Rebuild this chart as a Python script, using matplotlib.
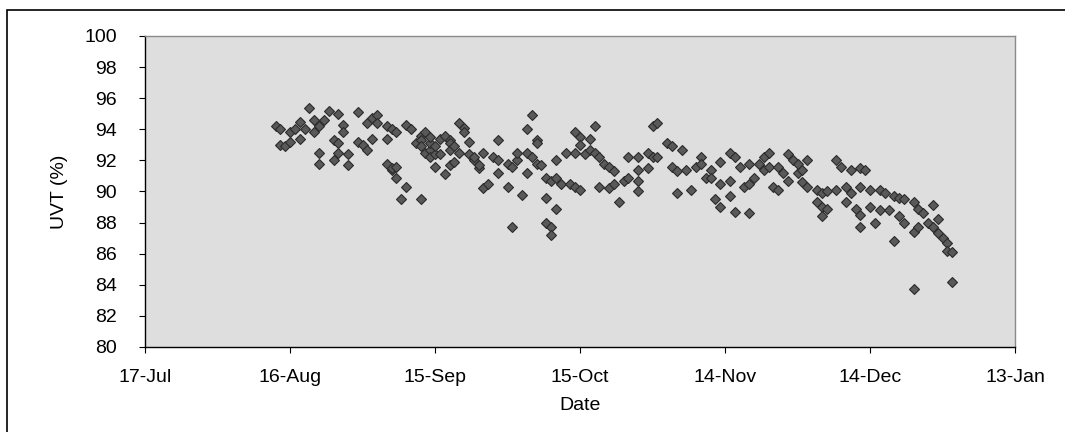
import datetime as dt

import matplotlib
matplotlib.use("Agg")
import matplotlib.pyplot as plt
import matplotlib.dates as mdates
from matplotlib.patches import Rectangle

# UVT readings, day of month per month (Aug 2006 - Dec 2006)
aug_day = [13, 14, 14, 15, 16, 16, 17, 18, 18, 19, 20, 21, 21, 22, 22,
           22, 23, 24, 25, 25, 26, 26, 26, 27, 27, 28, 28, 30, 30, 31]
aug_uvt = [94.2, 94.0, 93.0, 92.9, 93.8, 93.2, 94.0, 93.4, 94.5, 94.0,
           95.4, 93.8, 94.6, 92.5, 94.2, 91.8, 94.6, 95.2, 93.3, 92.0,
           95.0, 93.1, 92.5, 94.3, 93.8, 91.7, 92.4, 93.2, 95.1, 93.0]

sep_day = [1, 1, 2, 2, 3, 3, 5, 5, 5, 6, 6, 6, 7, 7, 7, 8, 9, 9, 10, 11,
           12, 12, 12, 12, 13, 13, 14, 14, 14, 14, 15, 15, 15, 16, 16, 17,
           17, 18, 18, 18, 18, 19, 19, 20, 20, 21, 21, 22, 22, 23, 23, 24,
           24, 25, 25, 26, 27, 28, 28, 28, 30, 30]
sep_uvt = [94.4, 92.7, 93.4, 94.7, 94.9, 94.4, 94.2, 93.4, 91.8, 91.4,
           94.0, 91.5, 93.8, 91.6, 90.9, 89.5, 90.3, 94.3, 94.0, 93.1,
           89.5, 93.6, 93.3, 92.9, 93.8, 92.5, 92.7, 93.1, 92.2, 93.5,
           92.4, 92.9, 91.6, 93.4, 92.4, 93.6, 91.1, 93.3, 93.1, 92.7,
           91.7, 91.9, 92.9, 94.4, 92.5, 94.1, 93.8, 93.2, 92.4, 92.0,
           92.2, 91.5, 91.7, 92.5, 90.2, 90.5, 92.2, 93.3, 91.2, 92.0,
           91.8, 90.3]

oct_day = [1, 1, 2, 2, 3, 4, 4, 4, 5, 5, 6, 6, 6, 7, 8, 8, 8, 9, 9, 9,
           10, 10, 10, 11, 12, 13, 14, 14, 14, 15, 15, 15, 16, 17, 17, 18,
           18, 19, 19, 20, 21, 21, 22, 22, 23, 24, 25, 25, 27, 27, 27, 27,
           29, 29, 30, 30, 31, 31]
oct_uvt = [91.6, 87.7, 92.0, 92.5, 89.8, 91.2, 92.5, 94.0, 92.2, 94.9,
           91.8, 93.3, 93.1, 91.7, 90.9, 89.6, 88.0, 90.7, 87.7, 87.2,
           90.9, 88.9, 92.0, 90.5, 92.5, 90.5, 90.3, 93.8, 92.5, 90.1,
           93.5, 93.0, 92.4, 93.4, 92.7, 92.5, 94.2, 92.2, 90.3, 91.8,
           91.6, 90.2, 91.3, 90.5, 89.3, 90.7, 92.2, 90.9, 90.7, 92.2,
           91.4, 90.0, 92.5, 91.5, 92.2, 94.2, 92.2, 94.4]

nov_day = [2, 3, 3, 4, 4, 5, 6, 7, 8, 9, 9, 10, 11, 11, 12, 13, 13, 13,
           15, 15, 15, 16, 16, 17, 18, 19, 19, 19, 20, 21, 22, 22, 23, 23,
           24, 25, 25, 26, 27, 27, 28, 29, 29, 30, 30]
nov_uvt = [93.1, 92.9, 91.6, 91.3, 89.9, 92.7, 91.4, 90.1, 91.6, 92.2,
           91.8, 90.9, 91.4, 90.9, 89.5, 91.9, 90.5, 89.0, 90.7, 89.7,
           92.5, 92.2, 88.7, 91.6, 90.3, 91.8, 90.5, 88.6, 90.9, 91.8,
           91.4, 92.2, 91.6, 92.5, 90.3, 91.6, 90.1, 91.2, 92.4, 90.7,
           92.0, 91.2, 91.8, 91.4, 90.6]

dec_day = [1, 1, 3, 3, 4, 4, 4, 5, 5, 7, 7, 8, 9, 9, 10, 10, 11, 12, 12,
           12, 12, 13, 14, 14, 15, 16, 16, 17, 18, 19, 19, 20, 20, 21, 21,
           23, 23, 23, 24, 24, 25, 26, 27, 27, 28, 28, 29, 30, 30, 31, 31]
dec_uvt = [92.0, 90.3, 90.1, 89.3, 89.9, 89.0, 88.4, 90.0, 88.9, 90.1,
           92.0, 91.6, 90.3, 89.3, 91.4, 89.9, 88.9, 91.5, 88.5, 90.3,
           87.7, 91.4, 90.1, 89.0, 88.0, 90.1, 88.8, 89.9, 88.8, 89.7,
           86.8, 89.6, 88.4, 88.0, 89.5, 89.3, 87.4, 83.7, 87.7, 88.9,
           88.6, 88.0, 87.7, 89.1, 88.2, 87.3, 87.0, 86.7, 86.2, 86.1,
           84.2]

months = [(8, aug_day, aug_uvt), (9, sep_day, sep_uvt), (10, oct_day, oct_uvt),
          (11, nov_day, nov_uvt), (12, dec_day, dec_uvt)]

dates = []
uvt = []
for month, days, values in months:
    dates += [dt.date(2006, month, d) for d in days]
    uvt += values

plt.rcParams["font.family"] = ["Liberation Sans", "DejaVu Sans"]
FONTSIZE = 14

fig = plt.figure(figsize=(10.65, 4.32), dpi=100)
ax = fig.add_axes([145 / 1065, 1 - 347 / 432, 870 / 1065, 311 / 432])
ax.set_facecolor("#dedede")

ax.plot(dates, uvt,
        linestyle="none",
        marker="D",
        markersize=5.0,
        markerfacecolor="#595959",
        markeredgecolor="#2b2b2b",
        markeredgewidth=0.8)

start = dt.date(2006, 7, 17)
ticks = [start + dt.timedelta(days=30 * i) for i in range(7)]
ax.set_xlim(ticks[0], ticks[-1])
ax.set_xticks(ticks)
ax.xaxis.set_major_formatter(mdates.DateFormatter("%d-%b"))
ax.set_ylim(80, 100)
ax.set_yticks(range(80, 101, 2))

ax.tick_params(axis="both", direction="out", length=4, width=0.8,
               labelsize=FONTSIZE, colors="black")
ax.tick_params(axis="x", pad=12)
ax.tick_params(axis="y", pad=16)

for side in ["left", "bottom"]:
    ax.spines[side].set_color("black")
    ax.spines[side].set_linewidth(1.0)
for side in ["top", "right"]:
    ax.spines[side].set_color("#8a8a8a")
    ax.spines[side].set_linewidth(1.0)

ax.set_xlabel("Date", fontsize=FONTSIZE, labelpad=8)
ax.set_ylabel("UVT (%)", fontsize=FONTSIZE, labelpad=12)

# outer chart frame (only left and top edges are inside the picture)
fig.add_artist(Rectangle((7 / 1065, -0.1), 1.2, 1.1 - 10 / 432,
                         transform=fig.transFigure, fill=False,
                         edgecolor="black", linewidth=1.2))

fig.savefig("out.png", dpi=100)
plt.close(fig)
